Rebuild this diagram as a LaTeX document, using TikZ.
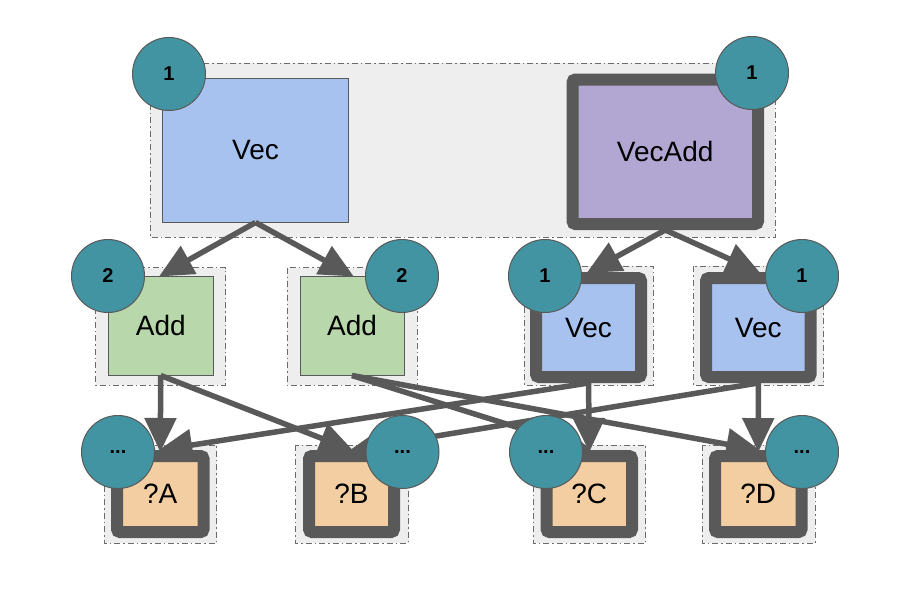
\documentclass[tikz,border=0pt]{standalone}
\usepackage{fontspec}
\setmainfont{Liberation Sans}
\usetikzlibrary{arrows.meta}
\definecolor{bggray}{HTML}{EEEEEE}
\definecolor{dashgray}{HTML}{6B6B6B}
\definecolor{edgegray}{HTML}{595959}
\definecolor{vecblue}{HTML}{A8C2F0}
\definecolor{addgreen}{HTML}{B8D7AA}
\definecolor{vapurple}{HTML}{B2A6D2}
\definecolor{qorange}{HTML}{F3CEA2}
\definecolor{teal}{HTML}{4394A3}
\tikzset{
  grp/.style={fill=bggray, draw=dashgray, line width=1pt, dash pattern=on 6pt off 3pt on 1.5pt off 3pt},
  thinbox/.style={draw=edgegray, line width=1pt, inner sep=0pt, font=\fontsize{28}{32}\selectfont},
  thickbox/.style={draw=edgegray, line width=12pt, rounded corners=3pt, inner sep=0pt, font=\fontsize{28}{32}\selectfont},
  badge/.style={circle, fill=teal, draw=edgegray, line width=1pt, minimum size=73pt, inner sep=0pt, font=\bfseries\fontsize{20}{24}\selectfont},
  conn/.style={draw=edgegray, line width=5.5pt, -{Triangle[length=34pt 0 0,width=31pt 0 0]}, shorten >=-2pt},
}
\begin{document}
\begin{tikzpicture}[x=1pt,y=-1pt]
\useasboundingbox (0,0) rectangle (920,592);
% group backgrounds
\draw[grp] (150,63) rectangle (775,237);
\draw[grp] (95.7,267.7) rectangle (225.8,385);
\draw[grp] (287,267.7) rectangle (417,385);
\draw[grp] (524,266) rectangle (653,385);
\draw[grp] (693.7,266) rectangle (823.8,385);
\draw[grp] (104,445) rectangle (216.6,543);
\draw[grp] (295.7,445) rectangle (408.5,543);
\draw[grp] (533,445) rectangle (645.7,543);
\draw[grp] (702,445) rectangle (815,543);
% boxes
\node[thinbox, fill=vecblue, minimum width=186pt, minimum height=144pt] (vtop) at (255.5,150) {Vec};
\node[thickbox, fill=vapurple, minimum width=185.5pt, minimum height=144.5pt] (vadd) at (665.25,151.75) {VecAdd};
\node[thinbox, fill=addgreen, minimum width=104.5pt, minimum height=99pt] (add1) at (160.75,325.5) {Add};
\node[thinbox, fill=addgreen, minimum width=104pt, minimum height=99pt] (add2) at (352,325.5) {Add};
\node[thickbox, fill=vecblue, minimum width=105pt, minimum height=99pt] (vec1) at (588.5,327.5) {Vec};
\node[thickbox, fill=vecblue, minimum width=104.6pt, minimum height=99pt] (vec2) at (758.3,327.5) {Vec};
\node[thickbox, fill=qorange, minimum width=86.5pt, minimum height=76pt] (qa) at (160.25,494) {?A};
\node[thickbox, fill=qorange, minimum width=85pt, minimum height=76pt] (qb) at (351.5,494) {?B};
\node[thickbox, fill=qorange, minimum width=85.4pt, minimum height=76pt] (qc) at (589.3,494) {?C};
\node[thickbox, fill=qorange, minimum width=86.5pt, minimum height=76pt] (qd) at (758.25,494) {?D};
% connectors
\draw[conn] (vtop.south) -- (add1.north);
\draw[conn] (vtop.south) -- (add2.north);
\draw[conn] (vadd.south) -- (vec1.north);
\draw[conn] (vadd.south) -- (vec2.north);
\draw[conn] (add1.south) -- (qa.north);
\draw[conn] (add1.south) -- (qb.north);
\draw[conn] (add2.south) -- (qc.north);
\draw[conn] (add2.south) -- (qd.north);
\draw[conn] (vec1.south) -- (qc.north);
\draw[conn] (vec1.south) -- (qa.north);
\draw[conn] (vec2.south) -- (qd.north);
\draw[conn] (vec2.south) -- (qb.north);
% badges
\node[badge] (b1) at (169,74) {1};
\node[badge] (b2) at (752,73) {1};
\node[badge] (b3) at (108,276) {2};
\node[badge] (b4) at (402,276) {2};
\node[badge] (b5) at (545,276) {1};
\node[badge] (b6) at (802,276) {1};
\node[badge] (b7) at (118,452) {...};
\node[badge] (b8) at (402.5,452) {...};
\node[badge] (b9) at (546,452) {...};
\node[badge] (b10) at (802,452) {...};
\end{tikzpicture}
\end{document}
